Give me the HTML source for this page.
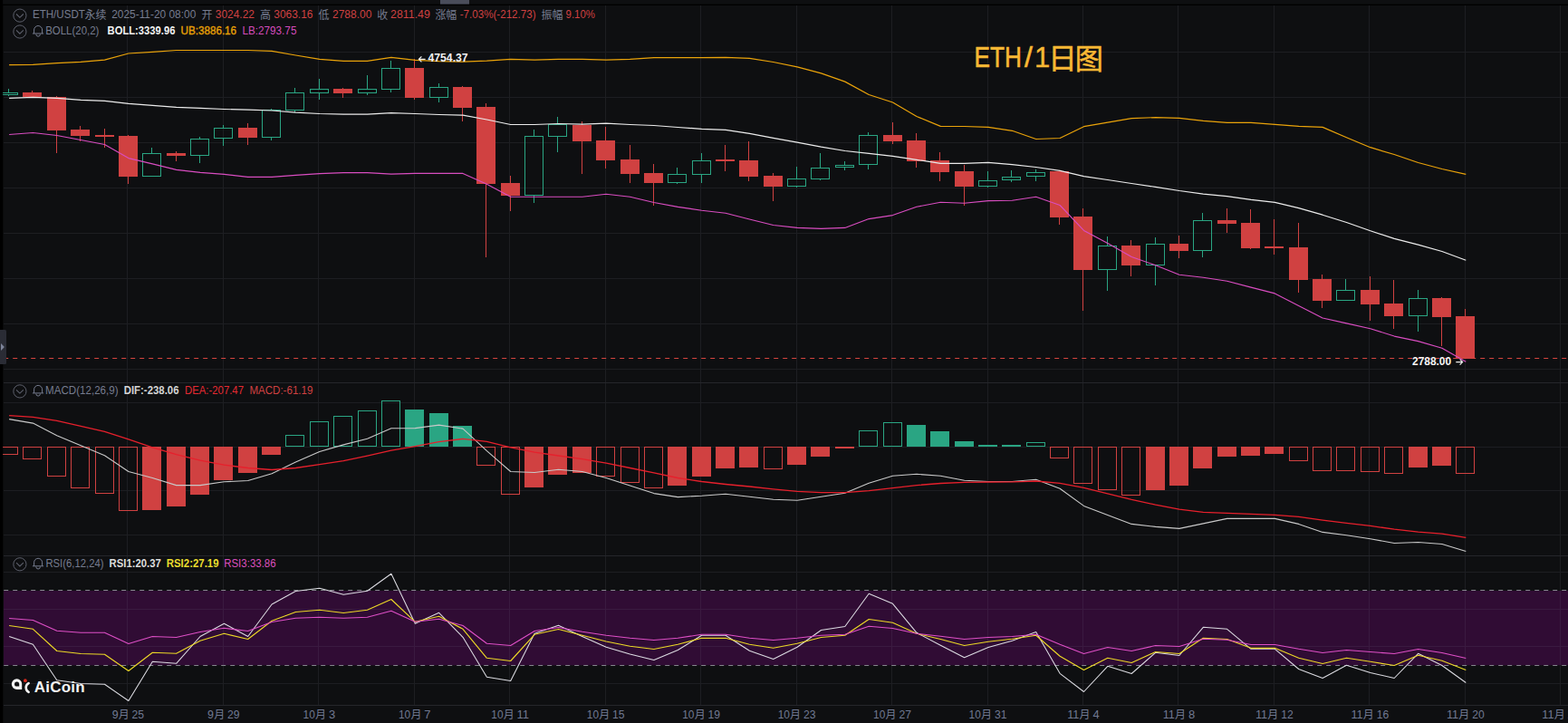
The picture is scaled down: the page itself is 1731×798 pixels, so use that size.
<!DOCTYPE html>
<html><head><meta charset="utf-8"><title>ETH/USDT</title>
<style>html,body{margin:0;padding:0;background:#0e0f11;overflow:hidden}body{width:1731px;height:798px}</style></head>
<body>
<svg width="1731" height="798" viewBox="0 0 1731 798" style="display:block">
<rect width="1731" height="798" fill="#000"/>
<rect x="3" y="0" width="1728" height="4.7" fill="#0e0f11"/>
<rect x="3.2" y="6.0" width="1727.8" height="792.0" fill="#0e0f11"/>
<rect x="486" y="0" width="32" height="4.6" fill="#4a4d5b"/>
<rect x="4" y="652" width="1727" height="82.3" fill="#300c34"/>
<g fill="#1d1e22" shape-rendering="crispEdges">
<rect x="4" y="57" width="1727" height="1"/>
<rect x="4" y="107" width="1727" height="1"/>
<rect x="4" y="157" width="1727" height="1"/>
<rect x="4" y="207" width="1727" height="1"/>
<rect x="4" y="257" width="1727" height="1"/>
<rect x="4" y="307" width="1727" height="1"/>
<rect x="4" y="357" width="1727" height="1"/>
<rect x="4" y="407" width="1727" height="1"/>
<rect x="4" y="444" width="1727" height="1"/>
<rect x="4" y="493" width="1727" height="1"/>
<rect x="4" y="541" width="1727" height="1"/>
<rect x="4" y="590" width="1727" height="1"/>
<rect x="4" y="631" width="1727" height="1"/>
<rect x="4" y="672" width="1727" height="1"/>
<rect x="4" y="713" width="1727" height="1"/>
<rect x="4" y="754" width="1727" height="1"/>
<rect x="140" y="6" width="1" height="772"/>
<rect x="246" y="6" width="1" height="772"/>
<rect x="351" y="6" width="1" height="772"/>
<rect x="457" y="6" width="1" height="772"/>
<rect x="562" y="6" width="1" height="772"/>
<rect x="668" y="6" width="1" height="772"/>
<rect x="773" y="6" width="1" height="772"/>
<rect x="879" y="6" width="1" height="772"/>
<rect x="984" y="6" width="1" height="772"/>
<rect x="1090" y="6" width="1" height="772"/>
<rect x="1195" y="6" width="1" height="772"/>
<rect x="1300" y="6" width="1" height="772"/>
<rect x="1406" y="6" width="1" height="772"/>
<rect x="1511" y="6" width="1" height="772"/>
<rect x="1617" y="6" width="1" height="772"/>
<rect x="1722" y="6" width="1" height="772"/>
</g>
<g fill="#25262b" shape-rendering="crispEdges">
<rect x="4" y="422" width="1727" height="1"/>
<rect x="4" y="613" width="1727" height="1"/>
<rect x="4" y="778" width="1727" height="1"/>
</g>
<g fill="#3a1a40" shape-rendering="crispEdges">
<rect x="4" y="672" width="1727" height="1"/>
<rect x="4" y="713" width="1727" height="1"/>
<rect x="140" y="652" width="1" height="82"/>
<rect x="246" y="652" width="1" height="82"/>
<rect x="351" y="652" width="1" height="82"/>
<rect x="457" y="652" width="1" height="82"/>
<rect x="562" y="652" width="1" height="82"/>
<rect x="668" y="652" width="1" height="82"/>
<rect x="773" y="652" width="1" height="82"/>
<rect x="879" y="652" width="1" height="82"/>
<rect x="984" y="652" width="1" height="82"/>
<rect x="1090" y="652" width="1" height="82"/>
<rect x="1195" y="652" width="1" height="82"/>
<rect x="1300" y="652" width="1" height="82"/>
<rect x="1406" y="652" width="1" height="82"/>
<rect x="1511" y="652" width="1" height="82"/>
<rect x="1617" y="652" width="1" height="82"/>
<rect x="1722" y="652" width="1" height="82"/>
</g>
<path d="M4.2 651.5H1731M4.2 734.5H1731" stroke="#85868d" stroke-width="1" stroke-dasharray="5 5" fill="none"/>
<g shape-rendering="crispEdges">
<rect x="9" y="98" width="1" height="4" fill="#2aa583"/>
<rect x="9" y="105" width="1" height="1" fill="#2aa583"/>
<rect x="-0.5" y="102.5" width="20" height="2" fill="none" stroke="#2aa583" stroke-width="1"/>
<rect x="35" y="100" width="1" height="7" fill="#d04141"/>
<rect x="25" y="102" width="21" height="5" fill="#d04141"/>
<rect x="62" y="106" width="1" height="63" fill="#d04141"/>
<rect x="52" y="107" width="21" height="37" fill="#d04141"/>
<rect x="88" y="139" width="1" height="17" fill="#d04141"/>
<rect x="78" y="143" width="21" height="7" fill="#d04141"/>
<rect x="115" y="142" width="1" height="21" fill="#d04141"/>
<rect x="105" y="149" width="21" height="2" fill="#d04141"/>
<rect x="141" y="149" width="1" height="54" fill="#d04141"/>
<rect x="131" y="150" width="21" height="45" fill="#d04141"/>
<rect x="167" y="163" width="1" height="6" fill="#2aa583"/>
<rect x="157.5" y="169.5" width="20" height="25" fill="none" stroke="#2aa583" stroke-width="1"/>
<rect x="194" y="167" width="1" height="11" fill="#d04141"/>
<rect x="184" y="169" width="21" height="3" fill="#d04141"/>
<rect x="220" y="151" width="1" height="2" fill="#2aa583"/>
<rect x="220" y="172" width="1" height="8" fill="#2aa583"/>
<rect x="210.5" y="153.5" width="20" height="18" fill="none" stroke="#2aa583" stroke-width="1"/>
<rect x="246" y="138" width="1" height="3" fill="#2aa583"/>
<rect x="246" y="153" width="1" height="8" fill="#2aa583"/>
<rect x="236.5" y="141.5" width="20" height="11" fill="none" stroke="#2aa583" stroke-width="1"/>
<rect x="273" y="136" width="1" height="24" fill="#d04141"/>
<rect x="263" y="141" width="21" height="11" fill="#d04141"/>
<rect x="299" y="120" width="1" height="1" fill="#2aa583"/>
<rect x="299" y="152" width="1" height="3" fill="#2aa583"/>
<rect x="289.5" y="121.5" width="20" height="30" fill="none" stroke="#2aa583" stroke-width="1"/>
<rect x="325" y="97" width="1" height="5" fill="#2aa583"/>
<rect x="325" y="122" width="1" height="2" fill="#2aa583"/>
<rect x="315.5" y="102.5" width="20" height="19" fill="none" stroke="#2aa583" stroke-width="1"/>
<rect x="352" y="87" width="1" height="11" fill="#2aa583"/>
<rect x="352" y="103" width="1" height="7" fill="#2aa583"/>
<rect x="342.5" y="98.5" width="20" height="4" fill="none" stroke="#2aa583" stroke-width="1"/>
<rect x="378" y="97" width="1" height="11" fill="#d04141"/>
<rect x="368" y="98" width="21" height="5" fill="#d04141"/>
<rect x="405" y="83" width="1" height="15" fill="#2aa583"/>
<rect x="405" y="103" width="1" height="2" fill="#2aa583"/>
<rect x="395.5" y="98.5" width="20" height="4" fill="none" stroke="#2aa583" stroke-width="1"/>
<rect x="431" y="67" width="1" height="8" fill="#2aa583"/>
<rect x="431" y="99" width="1" height="3" fill="#2aa583"/>
<rect x="421.5" y="75.5" width="20" height="23" fill="none" stroke="#2aa583" stroke-width="1"/>
<rect x="457" y="65" width="1" height="45" fill="#d04141"/>
<rect x="447" y="75" width="21" height="33" fill="#d04141"/>
<rect x="484" y="92" width="1" height="4" fill="#2aa583"/>
<rect x="484" y="108" width="1" height="5" fill="#2aa583"/>
<rect x="474.5" y="96.5" width="20" height="11" fill="none" stroke="#2aa583" stroke-width="1"/>
<rect x="510" y="95" width="1" height="39" fill="#d04141"/>
<rect x="500" y="96" width="21" height="23" fill="#d04141"/>
<rect x="536" y="114" width="1" height="170" fill="#d04141"/>
<rect x="526" y="118" width="21" height="85" fill="#d04141"/>
<rect x="563" y="194" width="1" height="39" fill="#d04141"/>
<rect x="553" y="202" width="21" height="14" fill="#d04141"/>
<rect x="589" y="143" width="1" height="7" fill="#2aa583"/>
<rect x="589" y="216" width="1" height="8" fill="#2aa583"/>
<rect x="579.5" y="150.5" width="20" height="65" fill="none" stroke="#2aa583" stroke-width="1"/>
<rect x="615" y="129" width="1" height="8" fill="#2aa583"/>
<rect x="615" y="151" width="1" height="17" fill="#2aa583"/>
<rect x="605.5" y="137.5" width="20" height="13" fill="none" stroke="#2aa583" stroke-width="1"/>
<rect x="642" y="134" width="1" height="58" fill="#d04141"/>
<rect x="632" y="138" width="21" height="18" fill="#d04141"/>
<rect x="668" y="140" width="1" height="46" fill="#d04141"/>
<rect x="658" y="155" width="21" height="22" fill="#d04141"/>
<rect x="695" y="160" width="1" height="42" fill="#d04141"/>
<rect x="685" y="176" width="21" height="16" fill="#d04141"/>
<rect x="721" y="181" width="1" height="46" fill="#d04141"/>
<rect x="711" y="191" width="21" height="11" fill="#d04141"/>
<rect x="747" y="185" width="1" height="7" fill="#2aa583"/>
<rect x="747" y="202" width="1" height="1" fill="#2aa583"/>
<rect x="737.5" y="192.5" width="20" height="9" fill="none" stroke="#2aa583" stroke-width="1"/>
<rect x="774" y="169" width="1" height="8" fill="#2aa583"/>
<rect x="774" y="193" width="1" height="9" fill="#2aa583"/>
<rect x="764.5" y="177.5" width="20" height="15" fill="none" stroke="#2aa583" stroke-width="1"/>
<rect x="800" y="160" width="1" height="29" fill="#d04141"/>
<rect x="790" y="176" width="21" height="2" fill="#d04141"/>
<rect x="826" y="156" width="1" height="44" fill="#d04141"/>
<rect x="816" y="177" width="21" height="18" fill="#d04141"/>
<rect x="853" y="191" width="1" height="31" fill="#d04141"/>
<rect x="843" y="194" width="21" height="12" fill="#d04141"/>
<rect x="879" y="184" width="1" height="13" fill="#2aa583"/>
<rect x="879" y="206" width="1" height="1" fill="#2aa583"/>
<rect x="869.5" y="197.5" width="20" height="8" fill="none" stroke="#2aa583" stroke-width="1"/>
<rect x="905" y="169" width="1" height="16" fill="#2aa583"/>
<rect x="905" y="198" width="1" height="1" fill="#2aa583"/>
<rect x="895.5" y="185.5" width="20" height="12" fill="none" stroke="#2aa583" stroke-width="1"/>
<rect x="932" y="178" width="1" height="4" fill="#2aa583"/>
<rect x="932" y="185" width="1" height="3" fill="#2aa583"/>
<rect x="922.5" y="182.5" width="20" height="2" fill="none" stroke="#2aa583" stroke-width="1"/>
<rect x="958" y="146" width="1" height="3" fill="#2aa583"/>
<rect x="958" y="182" width="1" height="5" fill="#2aa583"/>
<rect x="948.5" y="149.5" width="20" height="32" fill="none" stroke="#2aa583" stroke-width="1"/>
<rect x="985" y="135" width="1" height="24" fill="#d04141"/>
<rect x="975" y="149" width="21" height="7" fill="#d04141"/>
<rect x="1011" y="147" width="1" height="38" fill="#d04141"/>
<rect x="1001" y="155" width="21" height="23" fill="#d04141"/>
<rect x="1037" y="168" width="1" height="32" fill="#d04141"/>
<rect x="1027" y="177" width="21" height="13" fill="#d04141"/>
<rect x="1064" y="182" width="1" height="45" fill="#d04141"/>
<rect x="1054" y="189" width="21" height="17" fill="#d04141"/>
<rect x="1090" y="189" width="1" height="10" fill="#2aa583"/>
<rect x="1090" y="206" width="1" height="1" fill="#2aa583"/>
<rect x="1080.5" y="199.5" width="20" height="6" fill="none" stroke="#2aa583" stroke-width="1"/>
<rect x="1116" y="188" width="1" height="7" fill="#2aa583"/>
<rect x="1116" y="199" width="1" height="2" fill="#2aa583"/>
<rect x="1106.5" y="195.5" width="20" height="3" fill="none" stroke="#2aa583" stroke-width="1"/>
<rect x="1143" y="187" width="1" height="3" fill="#2aa583"/>
<rect x="1143" y="195" width="1" height="5" fill="#2aa583"/>
<rect x="1133.5" y="190.5" width="20" height="4" fill="none" stroke="#2aa583" stroke-width="1"/>
<rect x="1169" y="188" width="1" height="60" fill="#d04141"/>
<rect x="1159" y="189" width="21" height="51" fill="#d04141"/>
<rect x="1195" y="230" width="1" height="113" fill="#d04141"/>
<rect x="1185" y="239" width="21" height="59" fill="#d04141"/>
<rect x="1222" y="261" width="1" height="10" fill="#2aa583"/>
<rect x="1222" y="298" width="1" height="23" fill="#2aa583"/>
<rect x="1212.5" y="271.5" width="20" height="26" fill="none" stroke="#2aa583" stroke-width="1"/>
<rect x="1248" y="265" width="1" height="40" fill="#d04141"/>
<rect x="1238" y="271" width="21" height="22" fill="#d04141"/>
<rect x="1275" y="262" width="1" height="7" fill="#2aa583"/>
<rect x="1275" y="293" width="1" height="22" fill="#2aa583"/>
<rect x="1265.5" y="269.5" width="20" height="23" fill="none" stroke="#2aa583" stroke-width="1"/>
<rect x="1301" y="260" width="1" height="25" fill="#d04141"/>
<rect x="1291" y="269" width="21" height="8" fill="#d04141"/>
<rect x="1327" y="235" width="1" height="8" fill="#2aa583"/>
<rect x="1327" y="277" width="1" height="7" fill="#2aa583"/>
<rect x="1317.5" y="243.5" width="20" height="33" fill="none" stroke="#2aa583" stroke-width="1"/>
<rect x="1354" y="230" width="1" height="27" fill="#d04141"/>
<rect x="1344" y="243" width="21" height="4" fill="#d04141"/>
<rect x="1380" y="231" width="1" height="44" fill="#d04141"/>
<rect x="1370" y="246" width="21" height="28" fill="#d04141"/>
<rect x="1406" y="242" width="1" height="39" fill="#d04141"/>
<rect x="1396" y="272" width="21" height="2" fill="#d04141"/>
<rect x="1433" y="246" width="1" height="77" fill="#d04141"/>
<rect x="1423" y="273" width="21" height="36" fill="#d04141"/>
<rect x="1459" y="303" width="1" height="37" fill="#d04141"/>
<rect x="1449" y="308" width="21" height="24" fill="#d04141"/>
<rect x="1485" y="308" width="1" height="12" fill="#2aa583"/>
<rect x="1475.5" y="320.5" width="20" height="11" fill="none" stroke="#2aa583" stroke-width="1"/>
<rect x="1512" y="305" width="1" height="49" fill="#d04141"/>
<rect x="1502" y="320" width="21" height="16" fill="#d04141"/>
<rect x="1538" y="309" width="1" height="54" fill="#d04141"/>
<rect x="1528" y="335" width="21" height="14" fill="#d04141"/>
<rect x="1565" y="320" width="1" height="9" fill="#2aa583"/>
<rect x="1565" y="349" width="1" height="17" fill="#2aa583"/>
<rect x="1555.5" y="329.5" width="20" height="19" fill="none" stroke="#2aa583" stroke-width="1"/>
<rect x="1591" y="328" width="1" height="54" fill="#d04141"/>
<rect x="1581" y="329" width="21" height="21" fill="#d04141"/>
<rect x="1617" y="341" width="1" height="55" fill="#d04141"/>
<rect x="1607" y="349" width="21" height="47" fill="#d04141"/>
</g>
<polyline points="10.1,71.6 36.4,71.3 62.8,69.6 89.2,68.3 115.5,66.1 141.9,59.0 168.3,57.3 194.6,55.5 221.0,55.5 247.4,55.5 273.7,55.5 300.1,56.3 326.4,61.0 352.8,65.3 379.2,67.3 405.5,67.3 431.9,63.3 458.3,66.3 484.6,67.6 511.0,68.1 537.4,67.1 563.7,65.3 590.1,66.1 616.5,65.3 642.8,65.3 669.2,66.1 695.5,65.3 721.9,63.6 748.3,63.6 774.6,63.6 801.0,63.4 827.4,64.3 853.7,68.5 880.1,73.8 906.5,80.9 932.8,90.1 959.2,104.5 985.5,113.0 1011.9,128.5 1038.3,139.4 1064.6,139.5 1091.0,140.4 1117.4,144.3 1143.7,153.5 1170.1,152.5 1196.5,139.7 1222.8,135.1 1249.2,130.6 1275.6,129.6 1301.9,130.4 1328.3,133.4 1354.6,135.4 1381.0,135.4 1407.4,137.4 1433.7,139.4 1460.1,140.4 1486.5,151.7 1512.8,162.7 1539.2,170.5 1565.6,179.5 1591.9,186.5 1618.3,192.3" fill="none" stroke="#eaa30a" stroke-width="1.2" stroke-linejoin="round"/>
<polyline points="10.1,108.4 36.4,107.4 62.8,108.4 89.2,110.4 115.5,111.4 141.9,114.4 168.3,116.4 194.6,118.4 221.0,119.4 247.4,120.5 273.7,121.2 300.1,122.0 326.4,124.2 352.8,125.5 379.2,126.2 405.5,126.2 431.9,124.7 458.3,125.5 484.6,126.5 511.0,127.2 537.4,132.0 563.7,137.5 590.1,137.5 616.5,136.5 642.8,137.2 669.2,136.2 695.5,137.5 721.9,138.5 748.3,140.5 774.6,142.3 801.0,143.3 827.4,147.3 853.7,152.4 880.1,157.2 906.5,162.2 932.8,166.5 959.2,169.3 985.5,172.3 1011.9,176.3 1038.3,180.4 1064.6,180.3 1091.0,179.3 1117.4,181.7 1143.7,184.5 1170.1,188.3 1196.5,194.7 1222.8,198.5 1249.2,202.5 1275.6,206.3 1301.9,210.5 1328.3,214.1 1354.6,216.6 1381.0,220.3 1407.4,223.3 1433.7,229.6 1460.1,237.2 1486.5,245.5 1512.8,254.7 1539.2,263.4 1565.6,270.2 1591.9,277.5 1618.3,287.2" fill="none" stroke="#ececec" stroke-width="1.2" stroke-linejoin="round"/>
<polyline points="10.1,148.5 36.4,146.5 62.8,149.5 89.2,154.5 115.5,159.5 141.9,174.6 168.3,180.9 194.6,187.4 221.0,190.4 247.4,192.4 273.7,195.4 300.1,195.4 326.4,193.4 352.8,191.6 379.2,190.6 405.5,190.6 431.9,192.1 458.3,191.4 484.6,191.4 511.0,191.4 537.4,203.2 563.7,217.2 590.1,217.2 616.5,217.2 642.8,217.2 669.2,214.2 695.5,217.2 721.9,223.5 748.3,228.4 774.6,232.2 801.0,235.2 827.4,242.0 853.7,248.5 880.1,251.4 906.5,252.4 932.8,251.4 959.2,241.6 985.5,237.6 1011.9,228.3 1038.3,223.3 1064.6,224.3 1091.0,221.6 1117.4,221.3 1143.7,217.3 1170.1,226.5 1196.5,254.4 1222.8,268.5 1249.2,283.4 1275.6,292.8 1301.9,303.2 1328.3,306.3 1354.6,310.2 1381.0,317.1 1407.4,323.9 1433.7,337.5 1460.1,351.0 1486.5,356.9 1512.8,362.7 1539.2,371.1 1565.6,376.6 1591.9,384.2 1618.3,399.2" fill="none" stroke="#d94dc1" stroke-width="1.1" stroke-linejoin="round"/>
<path d="M4.2 395.5H1731" stroke="#d6453f" stroke-width="1" stroke-dasharray="5 5" fill="none"/>
<g shape-rendering="crispEdges">
<rect x="-0.5" y="493.5" width="20" height="8" fill="none" stroke="#d04141" stroke-width="1"/>
<rect x="25.5" y="493.5" width="20" height="13" fill="none" stroke="#d04141" stroke-width="1"/>
<rect x="52.5" y="493.5" width="20" height="32" fill="none" stroke="#d04141" stroke-width="1"/>
<rect x="78.5" y="493.5" width="20" height="45" fill="none" stroke="#d04141" stroke-width="1"/>
<rect x="105.5" y="493.5" width="20" height="51" fill="none" stroke="#d04141" stroke-width="1"/>
<rect x="131.5" y="493.5" width="20" height="70" fill="none" stroke="#d04141" stroke-width="1"/>
<rect x="157" y="493" width="21" height="70" fill="#d04141"/>
<rect x="184" y="493" width="21" height="66" fill="#d04141"/>
<rect x="210" y="493" width="21" height="53" fill="#d04141"/>
<rect x="236" y="493" width="21" height="37" fill="#d04141"/>
<rect x="263" y="493" width="21" height="29" fill="#d04141"/>
<rect x="289" y="493" width="21" height="9" fill="#d04141"/>
<rect x="315.5" y="480.5" width="20" height="12" fill="none" stroke="#2aa583" stroke-width="1"/>
<rect x="342.5" y="465.5" width="20" height="27" fill="none" stroke="#2aa583" stroke-width="1"/>
<rect x="368.5" y="459.5" width="20" height="33" fill="none" stroke="#2aa583" stroke-width="1"/>
<rect x="395.5" y="453.5" width="20" height="39" fill="none" stroke="#2aa583" stroke-width="1"/>
<rect x="421.5" y="442.5" width="20" height="50" fill="none" stroke="#2aa583" stroke-width="1"/>
<rect x="447" y="452" width="21" height="41" fill="#2aa583"/>
<rect x="474" y="456" width="21" height="37" fill="#2aa583"/>
<rect x="500" y="470" width="21" height="23" fill="#2aa583"/>
<rect x="526.5" y="493.5" width="20" height="20" fill="none" stroke="#d04141" stroke-width="1"/>
<rect x="553.5" y="493.5" width="20" height="52" fill="none" stroke="#d04141" stroke-width="1"/>
<rect x="579" y="493" width="21" height="45" fill="#d04141"/>
<rect x="605" y="493" width="21" height="31" fill="#d04141"/>
<rect x="632" y="493" width="21" height="29" fill="#d04141"/>
<rect x="658.5" y="493.5" width="20" height="32" fill="none" stroke="#d04141" stroke-width="1"/>
<rect x="685.5" y="493.5" width="20" height="39" fill="none" stroke="#d04141" stroke-width="1"/>
<rect x="711.5" y="493.5" width="20" height="45" fill="none" stroke="#d04141" stroke-width="1"/>
<rect x="737" y="493" width="21" height="43" fill="#d04141"/>
<rect x="764" y="493" width="21" height="33" fill="#d04141"/>
<rect x="790" y="493" width="21" height="24" fill="#d04141"/>
<rect x="816" y="493" width="21" height="23" fill="#d04141"/>
<rect x="843.5" y="493.5" width="20" height="24" fill="none" stroke="#d04141" stroke-width="1"/>
<rect x="869" y="493" width="21" height="20" fill="#d04141"/>
<rect x="895" y="493" width="21" height="11" fill="#d04141"/>
<rect x="922" y="493" width="21" height="2" fill="#d04141"/>
<rect x="948.5" y="475.5" width="20" height="17" fill="none" stroke="#2aa583" stroke-width="1"/>
<rect x="975.5" y="466.5" width="20" height="26" fill="none" stroke="#2aa583" stroke-width="1"/>
<rect x="1001" y="469" width="21" height="24" fill="#2aa583"/>
<rect x="1027" y="476" width="21" height="17" fill="#2aa583"/>
<rect x="1054" y="487" width="21" height="6" fill="#2aa583"/>
<rect x="1080" y="491" width="21" height="2" fill="#2aa583"/>
<rect x="1106" y="491" width="21" height="2" fill="#2aa583"/>
<rect x="1133.5" y="488.5" width="20" height="4" fill="none" stroke="#2aa583" stroke-width="1"/>
<rect x="1159.5" y="493.5" width="20" height="12" fill="none" stroke="#d04141" stroke-width="1"/>
<rect x="1185.5" y="493.5" width="20" height="40" fill="none" stroke="#d04141" stroke-width="1"/>
<rect x="1212.5" y="493.5" width="20" height="47" fill="none" stroke="#d04141" stroke-width="1"/>
<rect x="1238.5" y="493.5" width="20" height="53" fill="none" stroke="#d04141" stroke-width="1"/>
<rect x="1265" y="493" width="21" height="48" fill="#d04141"/>
<rect x="1291" y="493" width="21" height="43" fill="#d04141"/>
<rect x="1317" y="493" width="21" height="24" fill="#d04141"/>
<rect x="1344" y="493" width="21" height="11" fill="#d04141"/>
<rect x="1370" y="493" width="21" height="10" fill="#d04141"/>
<rect x="1396" y="493" width="21" height="8" fill="#d04141"/>
<rect x="1423.5" y="493.5" width="20" height="15" fill="none" stroke="#d04141" stroke-width="1"/>
<rect x="1449.5" y="493.5" width="20" height="26" fill="none" stroke="#d04141" stroke-width="1"/>
<rect x="1475.5" y="493.5" width="20" height="26" fill="none" stroke="#d04141" stroke-width="1"/>
<rect x="1502.5" y="493.5" width="20" height="27" fill="none" stroke="#d04141" stroke-width="1"/>
<rect x="1528.5" y="493.5" width="20" height="29" fill="none" stroke="#d04141" stroke-width="1"/>
<rect x="1555" y="493" width="21" height="23" fill="#d04141"/>
<rect x="1581" y="493" width="21" height="21" fill="#d04141"/>
<rect x="1607.5" y="493.5" width="20" height="29" fill="none" stroke="#d04141" stroke-width="1"/>
</g>
<polyline points="10.1,462.6 36.4,467.1 62.8,480.7 89.2,491.7 115.5,502.7 141.9,520.5 168.3,527.5 194.6,535.6 221.0,535.6 247.4,531.8 273.7,530.5 300.1,522.8 326.4,510.0 352.8,498.5 379.2,490.9 405.5,484.2 431.9,472.8 458.3,472.6 484.6,469.1 511.0,473.1 537.4,497.7 563.7,520.5 590.1,521.5 616.5,518.3 642.8,520.5 669.2,527.5 695.5,536.1 721.9,544.6 748.3,548.6 774.6,547.3 801.0,545.3 827.4,548.3 853.7,551.3 880.1,552.3 906.5,548.3 932.8,544.3 959.2,533.3 985.5,525.3 1011.9,523.3 1038.3,525.3 1064.6,530.3 1091.0,531.5 1117.4,531.5 1143.7,529.3 1170.1,539.3 1196.5,558.4 1222.8,568.4 1249.2,578.4 1275.6,581.4 1301.9,583.4 1328.3,577.9 1354.6,572.4 1381.0,572.4 1407.4,572.4 1433.7,578.4 1460.1,587.4 1486.5,590.7 1512.8,594.7 1539.2,599.5 1565.6,598.5 1591.9,600.5 1618.3,608.5" fill="none" stroke="#c9c9c9" stroke-width="1.1" stroke-linejoin="round"/>
<polyline points="10.1,458.6 36.4,460.4 62.8,464.4 89.2,470.4 115.5,476.4 141.9,484.9 168.3,493.9 194.6,501.7 221.0,508.2 247.4,513.2 273.7,516.5 300.1,518.5 326.4,516.5 352.8,512.7 379.2,508.7 405.5,503.2 431.9,497.2 458.3,492.7 484.6,487.7 511.0,484.4 537.4,487.4 563.7,493.9 590.1,499.2 616.5,503.0 642.8,506.7 669.2,511.2 695.5,516.5 721.9,521.8 748.3,527.5 774.6,531.5 801.0,534.5 827.4,537.0 853.7,539.8 880.1,542.3 906.5,543.6 932.8,543.6 959.2,541.6 985.5,538.6 1011.9,535.6 1038.3,533.5 1064.6,532.3 1091.0,532.0 1117.4,531.8 1143.7,531.0 1170.1,533.3 1196.5,538.3 1222.8,544.8 1249.2,551.3 1275.6,557.1 1301.9,562.2 1328.3,565.4 1354.6,566.4 1381.0,567.4 1407.4,568.4 1433.7,570.4 1460.1,574.1 1486.5,577.4 1512.8,580.4 1539.2,584.2 1565.6,587.2 1591.9,589.2 1618.3,593.4" fill="none" stroke="#e6202c" stroke-width="1.3" stroke-linejoin="round"/>
<polyline points="10.1,702.5 36.4,711.3 62.8,750.8 89.2,754.5 115.5,755.3 141.9,773.5 168.3,730.3 194.6,732.3 221.0,702.5 247.4,688.3 273.7,702.5 300.1,667.0 326.4,652.5 352.8,649.3 379.2,656.3 405.5,652.3 431.9,633.3 458.3,688.3 484.6,676.3 511.0,703.3 537.4,747.3 563.7,751.5 590.1,699.3 616.5,690.3 642.8,702.5 669.2,714.3 695.5,722.0 721.9,728.5 748.3,717.5 774.6,701.3 801.0,701.3 827.4,718.3 853.7,727.5 880.1,714.3 906.5,695.5 932.8,691.5 959.2,655.3 985.5,666.3 1011.9,698.3 1038.3,712.3 1064.6,725.8 1091.0,714.5 1117.4,707.3 1143.7,697.5 1170.1,743.3 1196.5,763.5 1222.8,735.3 1249.2,743.5 1275.6,720.3 1301.9,723.5 1328.3,692.3 1354.6,694.3 1381.0,716.3 1407.4,716.3 1433.7,738.5 1460.1,748.5 1486.5,734.3 1512.8,742.5 1539.2,748.5 1565.6,721.3 1591.9,734.5 1618.3,753.5" fill="none" stroke="#dcdce2" stroke-width="1.05" stroke-linejoin="round"/>
<polyline points="10.1,690.5 36.4,694.3 62.8,718.5 89.2,721.5 115.5,722.3 141.9,740.5 168.3,720.3 194.6,721.3 221.0,707.3 247.4,699.3 273.7,705.5 300.1,685.3 326.4,675.5 352.8,673.3 379.2,676.5 405.5,673.3 431.9,661.5 458.3,686.3 484.6,680.3 511.0,694.3 537.4,726.3 563.7,729.5 590.1,700.3 616.5,694.5 642.8,701.3 669.2,708.0 695.5,713.3 721.9,716.5 748.3,711.3 774.6,704.3 801.0,704.3 827.4,711.3 853.7,715.3 880.1,710.3 906.5,703.5 932.8,701.3 959.2,683.5 985.5,687.3 1011.9,699.3 1038.3,705.5 1064.6,712.5 1091.0,708.3 1117.4,705.3 1143.7,701.3 1170.1,724.3 1196.5,739.5 1222.8,726.3 1249.2,731.5 1275.6,719.5 1301.9,721.5 1328.3,704.3 1354.6,705.5 1381.0,715.3 1407.4,715.3 1433.7,726.3 1460.1,732.5 1486.5,726.3 1512.8,730.3 1539.2,734.5 1565.6,723.3 1591.9,729.3 1618.3,739.5" fill="none" stroke="#ecd926" stroke-width="1.15" stroke-linejoin="round"/>
<polyline points="10.1,682.5 36.4,684.5 62.8,696.3 89.2,698.3 115.5,698.3 141.9,710.5 168.3,702.5 194.6,703.5 221.0,697.5 247.4,693.3 273.7,696.5 300.1,686.5 326.4,682.3 352.8,681.3 379.2,682.3 405.5,681.3 431.9,674.3 458.3,686.3 484.6,683.3 511.0,690.5 537.4,710.3 563.7,712.5 590.1,696.5 616.5,692.5 642.8,697.3 669.2,701.3 695.5,704.3 721.9,706.5 748.3,704.3 774.6,700.3 801.0,700.3 827.4,704.3 853.7,706.5 880.1,704.3 906.5,701.3 932.8,700.3 959.2,691.3 985.5,693.5 1011.9,699.3 1038.3,702.3 1064.6,705.5 1091.0,703.5 1117.4,702.5 1143.7,700.3 1170.1,711.3 1196.5,721.5 1222.8,714.5 1249.2,718.5 1275.6,712.5 1301.9,713.5 1328.3,705.3 1354.6,706.3 1381.0,711.5 1407.4,711.5 1433.7,716.3 1460.1,720.5 1486.5,717.5 1512.8,719.5 1539.2,721.5 1565.6,716.5 1591.9,720.5 1618.3,726.5" fill="none" stroke="#de4fc6" stroke-width="1.1" stroke-linejoin="round"/>
<g opacity="0.999">
<circle cx="21.9" cy="17.1" r="7.1" fill="none" stroke="#5d606c" stroke-width="1"/>
<path d="M18 15.500000000000002L21.9 19.3L25.8 15.500000000000002" fill="none" stroke="#5d606c" stroke-width="1.1"/>
<text x="36.0" y="20.0" font-family="Liberation Sans, sans-serif" font-size="12" font-weight="400" fill="#767c8f" textLength="57.8" lengthAdjust="spacingAndGlyphs" >ETH/USDT</text>
<text x="93.6" y="20.5" font-family="'Liberation Sans', 'Noto Sans CJK SC', sans-serif" font-size="12" fill="#767c8f">永</text>
<text x="105.6" y="20.5" font-family="'Liberation Sans', 'Noto Sans CJK SC', sans-serif" font-size="12" fill="#767c8f">续</text>
<text x="123.2" y="20.0" font-family="Liberation Sans, sans-serif" font-size="12" font-weight="400" fill="#767c8f" textLength="93.1" lengthAdjust="spacingAndGlyphs" >2025-11-20 08:00</text>
<text x="222.4" y="20.5" font-family="'Liberation Sans', 'Noto Sans CJK SC', sans-serif" font-size="12" fill="#767c8f">开</text>
<text x="237.8" y="20.0" font-family="Liberation Sans, sans-serif" font-size="12" font-weight="400" fill="#d04141" textLength="43.2" lengthAdjust="spacingAndGlyphs" >3024.22</text>
<text x="287.0" y="20.5" font-family="'Liberation Sans', 'Noto Sans CJK SC', sans-serif" font-size="12" fill="#767c8f">高</text>
<text x="302.3" y="20.0" font-family="Liberation Sans, sans-serif" font-size="12" font-weight="400" fill="#d04141" textLength="43.2" lengthAdjust="spacingAndGlyphs" >3063.16</text>
<text x="351.5" y="20.5" font-family="'Liberation Sans', 'Noto Sans CJK SC', sans-serif" font-size="12" fill="#767c8f">低</text>
<text x="367.0" y="20.0" font-family="Liberation Sans, sans-serif" font-size="12" font-weight="400" fill="#d04141" textLength="43.4" lengthAdjust="spacingAndGlyphs" >2788.00</text>
<text x="416.2" y="20.5" font-family="'Liberation Sans', 'Noto Sans CJK SC', sans-serif" font-size="12" fill="#767c8f">收</text>
<text x="431.1" y="20.0" font-family="Liberation Sans, sans-serif" font-size="12" font-weight="400" fill="#d04141" textLength="43.8" lengthAdjust="spacingAndGlyphs" >2811.49</text>
<text x="480.4" y="20.5" font-family="'Liberation Sans', 'Noto Sans CJK SC', sans-serif" font-size="12" fill="#767c8f">涨</text>
<text x="492.3" y="20.5" font-family="'Liberation Sans', 'Noto Sans CJK SC', sans-serif" font-size="12" fill="#767c8f">幅</text>
<text x="507.7" y="20.0" font-family="Liberation Sans, sans-serif" font-size="12" font-weight="400" fill="#d04141" textLength="83.9" lengthAdjust="spacingAndGlyphs" >-7.03%(-212.73)</text>
<text x="597.6" y="20.5" font-family="'Liberation Sans', 'Noto Sans CJK SC', sans-serif" font-size="12" fill="#767c8f">振</text>
<text x="609.5" y="20.5" font-family="'Liberation Sans', 'Noto Sans CJK SC', sans-serif" font-size="12" fill="#767c8f">幅</text>
<text x="624.6" y="20.0" font-family="Liberation Sans, sans-serif" font-size="12" font-weight="400" fill="#d04141" textLength="32.2" lengthAdjust="spacingAndGlyphs" >9.10%</text>
<circle cx="21.9" cy="35.0" r="7.1" fill="none" stroke="#5d606c" stroke-width="1"/>
<path d="M18 33.4L21.9 37.2L25.8 33.4" fill="none" stroke="#5d606c" stroke-width="1.1"/>
<path d="M35.9 37.0H48.1M37.6 37.0V33.0A4.5 4.5 0 0 1 46.6 33.0V37.0M39.8 37.6A2.3 2.6 0 0 0 44.4 37.6" fill="none" stroke="#767c8f" stroke-width="1"/>
<text x="50.2" y="37.6" font-family="Liberation Sans, sans-serif" font-size="12" font-weight="400" fill="#767c8f" textLength="59.2" lengthAdjust="spacingAndGlyphs" >BOLL(20,2)</text>
<text x="118.6" y="37.6" font-family="Liberation Sans, sans-serif" font-size="12" font-weight="700" fill="#f2f2f2" textLength="74.8" lengthAdjust="spacingAndGlyphs" >BOLL:3339.96</text>
<text x="199.5" y="37.6" font-family="Liberation Sans, sans-serif" font-size="12" font-weight="400" fill="#e7a106" textLength="61.6" lengthAdjust="spacingAndGlyphs" stroke="#e7a106" stroke-width="0.35">UB:3886.16</text>
<text x="267.5" y="37.6" font-family="Liberation Sans, sans-serif" font-size="12" font-weight="400" fill="#d64bbd" textLength="59.9" lengthAdjust="spacingAndGlyphs" >LB:2793.75</text>
<circle cx="21.9" cy="431.9" r="7.1" fill="none" stroke="#5d606c" stroke-width="1"/>
<path d="M18 430.29999999999995L21.9 434.09999999999997L25.8 430.29999999999995" fill="none" stroke="#5d606c" stroke-width="1.1"/>
<path d="M35.9 433.9H48.1M37.6 433.9V429.9A4.5 4.5 0 0 1 46.6 429.9V433.9M39.8 434.5A2.3 2.6 0 0 0 44.4 434.5" fill="none" stroke="#767c8f" stroke-width="1"/>
<text x="50.1" y="434.6" font-family="Liberation Sans, sans-serif" font-size="12" font-weight="400" fill="#767c8f" textLength="80.5" lengthAdjust="spacingAndGlyphs" >MACD(12,26,9)</text>
<text x="136.7" y="434.6" font-family="Liberation Sans, sans-serif" font-size="12" font-weight="700" fill="#d4d4d4" textLength="60.8" lengthAdjust="spacingAndGlyphs" >DIF:-238.06</text>
<text x="204.0" y="434.6" font-family="Liberation Sans, sans-serif" font-size="12" font-weight="400" fill="#e62a32" textLength="65.0" lengthAdjust="spacingAndGlyphs" >DEA:-207.47</text>
<text x="275.4" y="434.6" font-family="Liberation Sans, sans-serif" font-size="12" font-weight="400" fill="#d04141" textLength="70.0" lengthAdjust="spacingAndGlyphs" >MACD:-61.19</text>
<circle cx="21.9" cy="622.8" r="7.1" fill="none" stroke="#5d606c" stroke-width="1"/>
<path d="M18 621.1999999999999L21.9 625.0L25.8 621.1999999999999" fill="none" stroke="#5d606c" stroke-width="1.1"/>
<path d="M35.9 624.8H48.1M37.6 624.8V620.8A4.5 4.5 0 0 1 46.6 620.8V624.8M39.8 625.4A2.3 2.6 0 0 0 44.4 625.4" fill="none" stroke="#767c8f" stroke-width="1"/>
<text x="50.4" y="625.8" font-family="Liberation Sans, sans-serif" font-size="12" font-weight="400" fill="#767c8f" textLength="64.1" lengthAdjust="spacingAndGlyphs" >RSI(6,12,24)</text>
<text x="120.5" y="625.8" font-family="Liberation Sans, sans-serif" font-size="12" font-weight="700" fill="#dcdcdc" textLength="57.3" lengthAdjust="spacingAndGlyphs" >RSI1:20.37</text>
<text x="183.7" y="625.8" font-family="Liberation Sans, sans-serif" font-size="12" font-weight="700" fill="#e9dc2e" textLength="57.9" lengthAdjust="spacingAndGlyphs" >RSI2:27.19</text>
<text x="247.2" y="625.8" font-family="Liberation Sans, sans-serif" font-size="12" font-weight="400" fill="#dd4fbf" textLength="57.4" lengthAdjust="spacingAndGlyphs" >RSI3:33.86</text>
<text x="472.5" y="67.7" font-family="Liberation Sans, sans-serif" font-size="12" font-weight="700" fill="#f4f4f4" textLength="44.1" lengthAdjust="spacingAndGlyphs" >4754.37</text>
<path d="M462.4 65.3H469.6M465.4 62.3L462.4 65.3L465.4 68.3" fill="none" stroke="#f0f0f0" stroke-width="1.2"/>
<text x="1559.0" y="403.4" font-family="Liberation Sans, sans-serif" font-size="12" font-weight="700" fill="#f4f4f4" textLength="43.1" lengthAdjust="spacingAndGlyphs" >2788.00</text>
<path d="M1607.3 399.6H1614.6M1611.6 396.6L1614.6 399.6L1611.6 402.6" fill="none" stroke="#f0f0f0" stroke-width="1.2"/>
<text x="1075.6" y="74" font-family="Liberation Sans, sans-serif" font-size="32" fill="#f8b834" stroke="#f8b834" stroke-width="0.6" textLength="52.4" lengthAdjust="spacingAndGlyphs">ETH</text>
<text x="1131" y="74" font-family="Liberation Sans, sans-serif" font-size="32" fill="#f8b834" stroke="#f8b834" stroke-width="0.6">/</text>
<text x="1142" y="74" font-family="Liberation Sans, sans-serif" font-size="31" fill="#f8b834" stroke="#f8b834" stroke-width="0.4">1</text>
<text x="1156.9" y="75.6" font-family="'Liberation Sans', 'Noto Sans CJK SC', sans-serif" font-size="32" fill="#f8b834" stroke="#f8b834" stroke-width="0.5">日</text>
<text x="1186.8" y="75.6" font-family="'Liberation Sans', 'Noto Sans CJK SC', sans-serif" font-size="31.2" fill="#f8b834" stroke="#f8b834" stroke-width="0.5">图</text>
<g>
<text x="123.7" y="792.8" font-family="Liberation Sans, sans-serif" font-size="12" font-weight="400" fill="#717a93" textLength="6.9" lengthAdjust="spacingAndGlyphs" >9</text>
<text x="130.75" y="793.3" font-family="'Liberation Sans', 'Noto Sans CJK SC', sans-serif" font-size="12" fill="#717a93">月</text>
<text x="145.6" y="792.8" font-family="Liberation Sans, sans-serif" font-size="12" font-weight="400" fill="#717a93" textLength="13.5" lengthAdjust="spacingAndGlyphs" >25</text>
</g>
<g>
<text x="229.1" y="792.8" font-family="Liberation Sans, sans-serif" font-size="12" font-weight="400" fill="#717a93" textLength="6.9" lengthAdjust="spacingAndGlyphs" >9</text>
<text x="236.21" y="793.3" font-family="'Liberation Sans', 'Noto Sans CJK SC', sans-serif" font-size="12" fill="#717a93">月</text>
<text x="251.1" y="792.8" font-family="Liberation Sans, sans-serif" font-size="12" font-weight="400" fill="#717a93" textLength="13.5" lengthAdjust="spacingAndGlyphs" >29</text>
</g>
<g>
<text x="334.6" y="792.8" font-family="Liberation Sans, sans-serif" font-size="12" font-weight="400" fill="#717a93" textLength="13.2" lengthAdjust="spacingAndGlyphs" >10</text>
<text x="347.96" y="793.3" font-family="'Liberation Sans', 'Noto Sans CJK SC', sans-serif" font-size="12" fill="#717a93">月</text>
<text x="362.9" y="792.8" font-family="Liberation Sans, sans-serif" font-size="12" font-weight="400" fill="#717a93" textLength="7.2" lengthAdjust="spacingAndGlyphs" >3</text>
</g>
<g>
<text x="440.0" y="792.8" font-family="Liberation Sans, sans-serif" font-size="12" font-weight="400" fill="#717a93" textLength="13.2" lengthAdjust="spacingAndGlyphs" >10</text>
<text x="453.42" y="793.3" font-family="'Liberation Sans', 'Noto Sans CJK SC', sans-serif" font-size="12" fill="#717a93">月</text>
<text x="468.3" y="792.8" font-family="Liberation Sans, sans-serif" font-size="12" font-weight="400" fill="#717a93" textLength="7.2" lengthAdjust="spacingAndGlyphs" >7</text>
</g>
<g>
<text x="542.3" y="792.8" font-family="Liberation Sans, sans-serif" font-size="12" font-weight="400" fill="#717a93" textLength="13.2" lengthAdjust="spacingAndGlyphs" >10</text>
<text x="555.72" y="793.3" font-family="'Liberation Sans', 'Noto Sans CJK SC', sans-serif" font-size="12" fill="#717a93">月</text>
<text x="570.6" y="792.8" font-family="Liberation Sans, sans-serif" font-size="12" font-weight="400" fill="#717a93" textLength="13.5" lengthAdjust="spacingAndGlyphs" >11</text>
</g>
<g>
<text x="647.8" y="792.8" font-family="Liberation Sans, sans-serif" font-size="12" font-weight="400" fill="#717a93" textLength="13.2" lengthAdjust="spacingAndGlyphs" >10</text>
<text x="661.18" y="793.3" font-family="'Liberation Sans', 'Noto Sans CJK SC', sans-serif" font-size="12" fill="#717a93">月</text>
<text x="676.1" y="792.8" font-family="Liberation Sans, sans-serif" font-size="12" font-weight="400" fill="#717a93" textLength="13.5" lengthAdjust="spacingAndGlyphs" >15</text>
</g>
<g>
<text x="753.2" y="792.8" font-family="Liberation Sans, sans-serif" font-size="12" font-weight="400" fill="#717a93" textLength="13.2" lengthAdjust="spacingAndGlyphs" >10</text>
<text x="766.64" y="793.3" font-family="'Liberation Sans', 'Noto Sans CJK SC', sans-serif" font-size="12" fill="#717a93">月</text>
<text x="781.5" y="792.8" font-family="Liberation Sans, sans-serif" font-size="12" font-weight="400" fill="#717a93" textLength="13.5" lengthAdjust="spacingAndGlyphs" >19</text>
</g>
<g>
<text x="858.7" y="792.8" font-family="Liberation Sans, sans-serif" font-size="12" font-weight="400" fill="#717a93" textLength="13.2" lengthAdjust="spacingAndGlyphs" >10</text>
<text x="872.09" y="793.3" font-family="'Liberation Sans', 'Noto Sans CJK SC', sans-serif" font-size="12" fill="#717a93">月</text>
<text x="887.0" y="792.8" font-family="Liberation Sans, sans-serif" font-size="12" font-weight="400" fill="#717a93" textLength="13.5" lengthAdjust="spacingAndGlyphs" >23</text>
</g>
<g>
<text x="964.1" y="792.8" font-family="Liberation Sans, sans-serif" font-size="12" font-weight="400" fill="#717a93" textLength="13.2" lengthAdjust="spacingAndGlyphs" >10</text>
<text x="977.55" y="793.3" font-family="'Liberation Sans', 'Noto Sans CJK SC', sans-serif" font-size="12" fill="#717a93">月</text>
<text x="992.4" y="792.8" font-family="Liberation Sans, sans-serif" font-size="12" font-weight="400" fill="#717a93" textLength="13.5" lengthAdjust="spacingAndGlyphs" >27</text>
</g>
<g>
<text x="1069.6" y="792.8" font-family="Liberation Sans, sans-serif" font-size="12" font-weight="400" fill="#717a93" textLength="13.2" lengthAdjust="spacingAndGlyphs" >10</text>
<text x="1083.0" y="793.3" font-family="'Liberation Sans', 'Noto Sans CJK SC', sans-serif" font-size="12" fill="#717a93">月</text>
<text x="1097.9" y="792.8" font-family="Liberation Sans, sans-serif" font-size="12" font-weight="400" fill="#717a93" textLength="13.5" lengthAdjust="spacingAndGlyphs" >31</text>
</g>
<g>
<text x="1178.2" y="792.8" font-family="Liberation Sans, sans-serif" font-size="12" font-weight="400" fill="#717a93" textLength="13.2" lengthAdjust="spacingAndGlyphs" >11</text>
<text x="1191.61" y="793.3" font-family="'Liberation Sans', 'Noto Sans CJK SC', sans-serif" font-size="12" fill="#717a93">月</text>
<text x="1206.5" y="792.8" font-family="Liberation Sans, sans-serif" font-size="12" font-weight="400" fill="#717a93" textLength="7.2" lengthAdjust="spacingAndGlyphs" >4</text>
</g>
<g>
<text x="1283.7" y="792.8" font-family="Liberation Sans, sans-serif" font-size="12" font-weight="400" fill="#717a93" textLength="13.2" lengthAdjust="spacingAndGlyphs" >11</text>
<text x="1297.07" y="793.3" font-family="'Liberation Sans', 'Noto Sans CJK SC', sans-serif" font-size="12" fill="#717a93">月</text>
<text x="1312.0" y="792.8" font-family="Liberation Sans, sans-serif" font-size="12" font-weight="400" fill="#717a93" textLength="7.2" lengthAdjust="spacingAndGlyphs" >8</text>
</g>
<g>
<text x="1386.0" y="792.8" font-family="Liberation Sans, sans-serif" font-size="12" font-weight="400" fill="#717a93" textLength="13.2" lengthAdjust="spacingAndGlyphs" >11</text>
<text x="1399.37" y="793.3" font-family="'Liberation Sans', 'Noto Sans CJK SC', sans-serif" font-size="12" fill="#717a93">月</text>
<text x="1414.3" y="792.8" font-family="Liberation Sans, sans-serif" font-size="12" font-weight="400" fill="#717a93" textLength="13.5" lengthAdjust="spacingAndGlyphs" >12</text>
</g>
<g>
<text x="1491.4" y="792.8" font-family="Liberation Sans, sans-serif" font-size="12" font-weight="400" fill="#717a93" textLength="13.2" lengthAdjust="spacingAndGlyphs" >11</text>
<text x="1504.83" y="793.3" font-family="'Liberation Sans', 'Noto Sans CJK SC', sans-serif" font-size="12" fill="#717a93">月</text>
<text x="1519.7" y="792.8" font-family="Liberation Sans, sans-serif" font-size="12" font-weight="400" fill="#717a93" textLength="13.5" lengthAdjust="spacingAndGlyphs" >16</text>
</g>
<g>
<text x="1596.9" y="792.8" font-family="Liberation Sans, sans-serif" font-size="12" font-weight="400" fill="#717a93" textLength="13.2" lengthAdjust="spacingAndGlyphs" >11</text>
<text x="1610.28" y="793.3" font-family="'Liberation Sans', 'Noto Sans CJK SC', sans-serif" font-size="12" fill="#717a93">月</text>
<text x="1625.2" y="792.8" font-family="Liberation Sans, sans-serif" font-size="12" font-weight="400" fill="#717a93" textLength="13.5" lengthAdjust="spacingAndGlyphs" >20</text>
</g>
<g>
<text x="1702.3" y="792.8" font-family="Liberation Sans, sans-serif" font-size="12" font-weight="400" fill="#717a93" textLength="13.2" lengthAdjust="spacingAndGlyphs" >11</text>
<text x="1715.74" y="793.3" font-family="'Liberation Sans', 'Noto Sans CJK SC', sans-serif" font-size="12" fill="#717a93">月</text>
<text x="1730.6" y="792.8" font-family="Liberation Sans, sans-serif" font-size="12" font-weight="400" fill="#717a93" textLength="13.5" lengthAdjust="spacingAndGlyphs" >24</text>
</g>
</g>
<rect x="0" y="0" width="3.1" height="798" fill="#000"/>
<path d="M0 364H5.5Q7 364 7 365.5V400.5Q7 402 5.5 402H0Z" fill="#2a2c35"/>
<path d="M1 379L4.9 383L1 387Z" fill="#7d849a"/>
<g>
<path d="M18.6 749.3a5.6 5.6 0 1 0 0 11.6h5.6v-6a5.6 5.6 0 0 0-5.6-5.6zm0 3.1a2.6 2.6 0 0 1 2.6 2.6v2.6h-2.6a2.6 2.6 0 0 1 0-5.2z" fill="#f4f4f4" fill-rule="evenodd"/>
<circle cx="27.9" cy="751.2" r="1.9" fill="#d92b1f"/>
<path d="M31.6 754.2a5.4 5.4 0 0 0 0 9.6" fill="none" stroke="#f4f4f4" stroke-width="2.6" stroke-linecap="round"/>
<text x="37.8" y="763.7" font-family="Liberation Sans, sans-serif" font-size="17" font-weight="700" fill="#f4f4f4" textLength="55.8" lengthAdjust="spacing">AiCoin</text>
</g>
</svg>
</body></html>
